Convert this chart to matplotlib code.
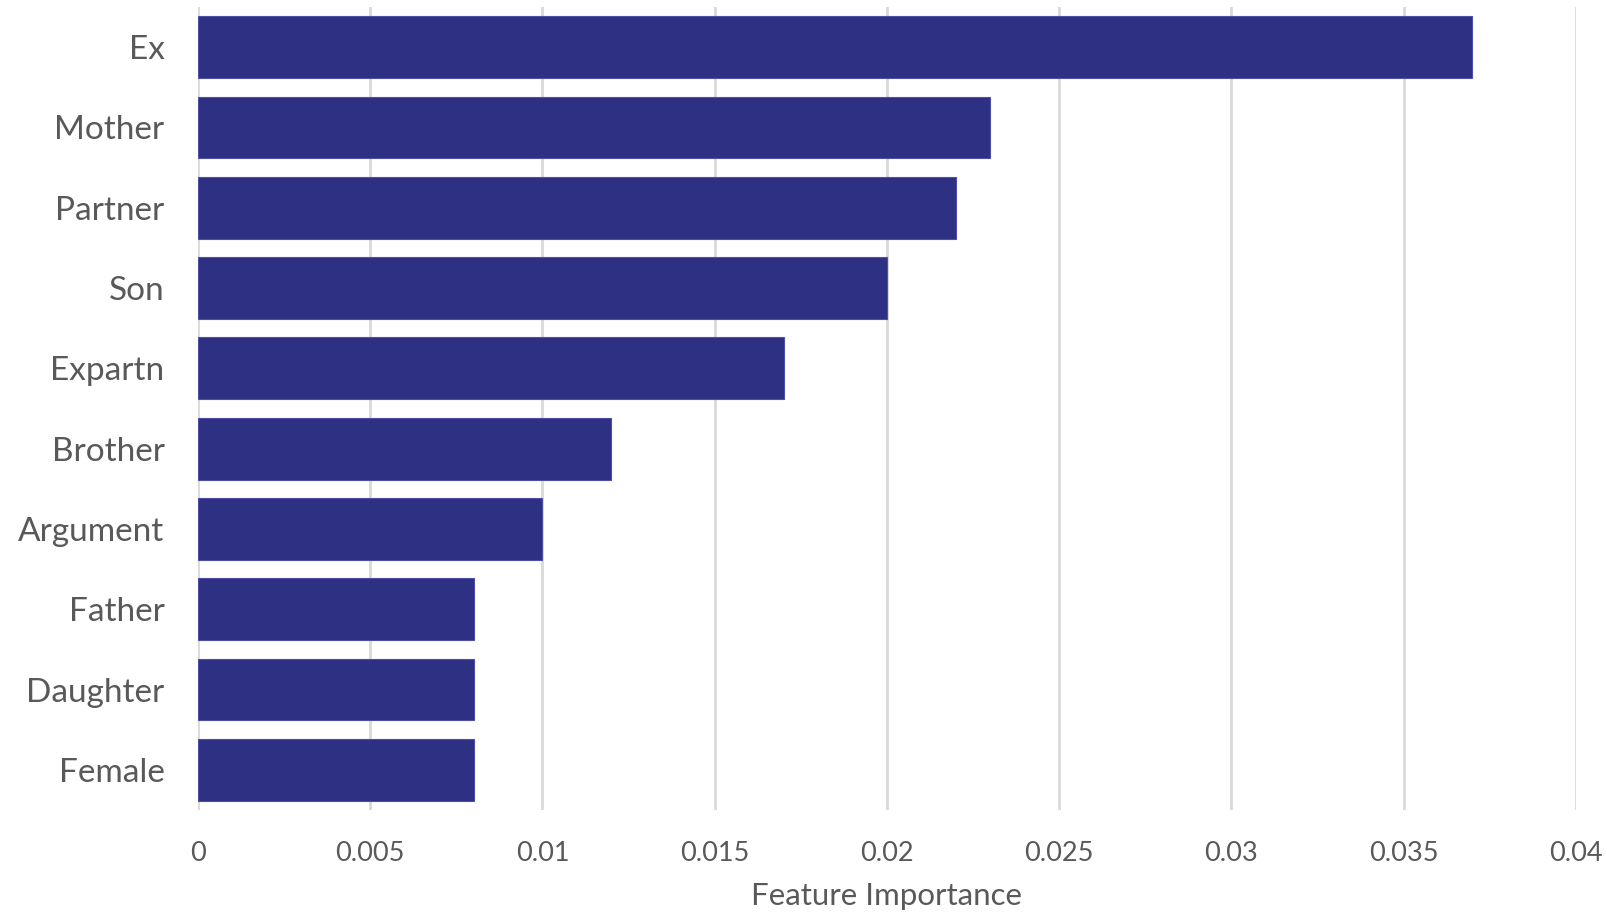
import numpy as np
import matplotlib.pyplot as plt

features = ["Ex", "Mother", "Partner", "Son", "Expartn", "Brother",
            "Argument", "Father", "Daughter", "Female"]
importance = [0.037, 0.023, 0.022, 0.020, 0.017, 0.012,
              0.010, 0.008, 0.008, 0.008]
xticks = [0, 0.005, 0.01, 0.015, 0.02, 0.025, 0.03, 0.035, 0.04]
xticklabels = ["0", "0.005", "0.01", "0.015", "0.02", "0.025", "0.03", "0.035", "0.04"]

plt.rcParams['font.family'] = ['Lato', 'DejaVu Sans']
grey = '#595959'

fig = plt.figure(figsize=(16.08, 9.17), dpi=100)
ax = fig.add_axes([0.1231, 0.1167, 0.980 - 0.1231, 0.9924 - 0.1167])

y = np.arange(len(features))
ax.barh(y, importance, height=0.77, color='#2E3083', edgecolor='#4E50A8', linewidth=0.8, zorder=3)
ax.set_ylim(len(features) - 0.5, -0.5)
ax.set_xlim(0, 0.04)

ax.set_yticks(y)
ax.set_yticklabels(features, fontsize=24, color=grey)
ax.set_xticks(xticks)
ax.set_xticklabels(xticklabels, fontsize=19.5, color=grey)
ax.tick_params(axis='y', length=0, pad=24)
ax.tick_params(axis='x', length=0, pad=22)
for lbl in ax.get_yticklabels():
    lbl.set_y(lbl.get_position()[1])
    lbl.set_verticalalignment('center_baseline')

ax.grid(axis='x', color='#D9D9D9', linewidth=2, zorder=0)
for s in ax.spines.values():
    s.set_visible(False)

ax.set_xlabel("Feature Importance", fontsize=22.5, color=grey, labelpad=12)

fig.savefig("out.png", dpi=100)
